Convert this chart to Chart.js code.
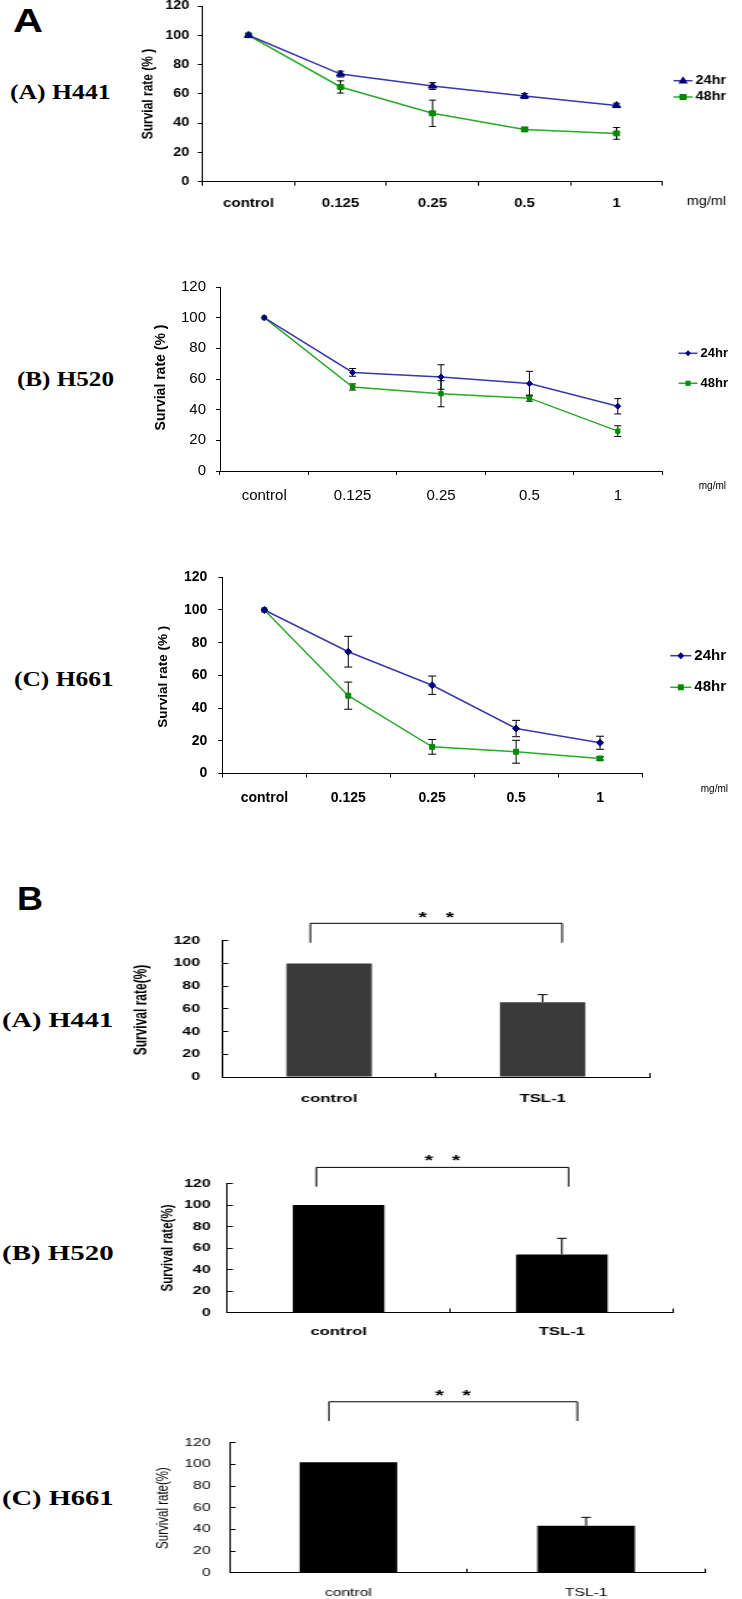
<!DOCTYPE html>
<html><head><meta charset="utf-8">
<script src="https://cdn.jsdelivr.net/npm/chart.js@4.4.1/dist/chart.umd.min.js"></script>
<style>
html,body{margin:0;padding:0;background:#fff;}
body{position:relative;width:742px;height:1599px;overflow:hidden;}
canvas{position:absolute;left:0;transform-origin:0 0;}
.tag{position:absolute;white-space:nowrap;transform-origin:0 50%;color:#000;}
.serif{font-family:'Liberation Serif','Times New Roman',serif;font-weight:bold;}
.big{font-family:'Liberation Sans',Arial,sans-serif;font-weight:bold;}
</style></head><body>
<script>
// ---------------- data ----------------
const doseLabels = ['control', '0.125', '0.25', '0.5', '1'];
const barLabels = ['control', 'TSL-1'];
const seriesNames = ['24hr', '48hr'];

const h441_24 = [100, 73.5, 65.3, 58.5, 52.1];
const h441_24err = [0, 2, 2.3, 1.7, 1.5];
const h441_48 = [100, 64.7, 46.7, 35.7, 33];
const h441_48err = [0, 4.2, 9, 1.4, 4];

const h520_24 = [100, 64.3, 61.3, 57, 42.2];
const h520_24err = [0, 2.5, 8, 8, 5];
const h520_48 = [100, 54.8, 50.4, 47.5, 26];
const h520_48err = [0, 2, 8.5, 2, 3.5];

const h661_24 = [100, 74.5, 54, 27.5, 18.8];
const h661_24err = [0, 9.4, 5.6, 5, 4];
const h661_48 = [100, 47.6, 16.3, 13.3, 9.2];
const h661_48err = [0, 8.3, 4.5, 7, 1];

const barH441 = [100, 65.8];
const barH441err = [0, 6.7];
const barH520 = [100, 54];
const barH520err = [0, 15];
const barH661 = [102, 43.4];
const barH661err = [0, 7.7];

const yMin = 0, yMax = 120, yStep = 20;
const lineTitle = 'Survial rate (% )';
const barTitle = 'Survival rate(%)';
const unitText = 'mg/ml';
const starText = '*';

// ---------------- styles / layout ----------------
const SANS = "'Liberation Sans', Arial, Helvetica, sans-serif";
const BLUE_LINE = '#3838aa', BLUE_PT = '#000080', GREEN_LINE = '#2aa82a', GREEN_PT = '#008a00';

const panels = [
  { kind:'line', s:1.2, left:202.5, right:662.5, yTop:6, yBottom:181.7, head:24, foot:34,
    labelY:202, yLabRight:189.3, yFont:{size:12, weight:'bold'}, xFont:{size:12.5, weight:'bold'},
    labels:doseLabels, yTick:4, xTick:4,
    series:[{name:seriesNames[0], data:h441_24, err:h441_24err, line:BLUE_LINE, pt:BLUE_PT, style:'triangle', r:4},
            {name:seriesNames[1], data:h441_48, err:h441_48err, line:GREEN_LINE, pt:GREEN_PT, style:'rect', r:3.5}],
    cap:3.5,
    legend:{ys:[80.7, 97], tr:726, len:19, gap:3, font:'bold 12px'},
    title:{text:lineTitle, x:149, y:94, font:'bold 12px'},
    unit:{text:unitText, xr:726, y:202, font:'12px'} },
  { kind:'line', s:1.0, left:220, right:662, yTop:287, yBottom:471, head:24, foot:34,
    labelY:494.5, yLabRight:206, yFont:{size:15, weight:'normal'}, xFont:{size:15, weight:'normal'},
    labels:doseLabels, yTick:4, xTick:4,
    series:[{name:seriesNames[0], data:h520_24, err:h520_24err, line:BLUE_LINE, pt:BLUE_PT, style:'rectRot', r:3},
            {name:seriesNames[1], data:h520_48, err:h520_48err, line:GREEN_LINE, pt:GREEN_PT, style:'rect', r:3}],
    cap:3.5,
    legend:{ys:[353.3, 383.3], tr:728, len:19, gap:3, font:'bold 13px'},
    title:{text:lineTitle, x:161, y:377.5, font:'bold 14px'},
    unit:{text:unitText, xr:726, y:486, font:'10px'} },
  { kind:'line', s:1.0, left:222.4, right:642, yTop:577.3, yBottom:773.5, head:24, foot:34,
    labelY:796.7, yLabRight:207.3, yFont:{size:14, weight:'bold'}, xFont:{size:14, weight:'bold'},
    labels:doseLabels, yTick:4, xTick:4,
    series:[{name:seriesNames[0], data:h661_24, err:h661_24err, line:BLUE_LINE, pt:BLUE_PT, style:'rectRot', r:3.5},
            {name:seriesNames[1], data:h661_48, err:h661_48err, line:GREEN_LINE, pt:GREEN_PT, style:'rect', r:3.5}],
    cap:4,
    legend:{ys:[655.7, 687.3], tr:726, len:21, gap:3, font:'bold 15px'},
    title:{text:lineTitle, x:163, y:676.7, font:'bold 13.5px'},
    unit:{text:unitText, xr:728, y:789, font:'10px'} },
  { kind:'bar', s:1.45, left:222.4, right:649.3, yTop:940.7, yBottom:1077, head:50, foot:32,
    labelY:1097.7, yLabRight:200, yFont:{size:11, weight:'bold'}, xFont:{size:11.5, weight:'bold'},
    labels:barLabels, barPct:0.4, yTick:-4, xTick:-4,
    series:[{data:barH441, err:barH441err, color:'#3a3a3a'}],
    cap:5,
    bracket:{l:-0.088, r:0.092, top:135.3, bot:118.2, star:143.5, gap:13.5, font:'bold 15px'},
    title:{text:barTitle, x:142, y:1010, font:'bold 12px'} },
  { kind:'bar', s:1.45, left:227, right:673.5, yTop:1183.5, yBottom:1312.5, head:50, foot:32,
    labelY:1330.7, yLabRight:210.6, yFont:{size:11, weight:'bold'}, xFont:{size:11.5, weight:'bold'},
    labels:barLabels, barPct:0.41, yTick:-4, xTick:-4,
    series:[{data:barH520, err:barH520err, color:'#000000'}],
    cap:5,
    bracket:{l:-0.1, r:0.03, top:135, bot:117, star:144.4, gap:13.5, font:'bold 15px'},
    title:{text:barTitle, x:168, y:1248, font:'bold 11.5px'} },
  { kind:'bar', s:1.5, left:229.5, right:705, yTop:1442.7, yBottom:1572.7, head:72, foot:27,
    labelY:1591.7, yLabRight:210.6, yFont:{size:10.5, weight:'normal'}, xFont:{size:10.5, weight:'normal'},
    labels:barLabels, barPct:0.41, yTick:-4, xTick:-4,
    series:[{data:barH661, err:barH661err, color:'#000000'}],
    cap:5,
    bracket:{l:-0.082, r:-0.037, top:157.8, bot:140, star:167, gap:13.5, font:'bold 15px'},
    title:{text:barTitle, x:163, y:1508, font:'11.5px'} }
];

const tags = [
  {text:'A', cls:'big', size:33, x0:13, x1:43, yc:20},
  {text:'(A) H441', cls:'serif', size:20, x0:10.4, x1:111, yc:91.7},
  {text:'(B) H520', cls:'serif', size:20, x0:16.6, x1:113.6, yc:379.3},
  {text:'(C) H661', cls:'serif', size:20, x0:14, x1:113.6, yc:679.3},
  {text:'B', cls:'big', size:34, x0:16.6, x1:42.6, yc:897.5},
  {text:'(A) H441', cls:'serif', size:20, x0:2.4, x1:113.6, yc:1020},
  {text:'(B) H520', cls:'serif', size:20, x0:2, x1:113.6, yc:1252.7},
  {text:'(C) H661', cls:'serif', size:20, x0:2, x1:113.6, yc:1498.3}
];

tags.forEach(t => {
  const el = document.createElement('div');
  el.className = 'tag ' + t.cls;
  el.textContent = t.text;
  el.style.fontSize = t.size + 'px';
  el.style.lineHeight = t.size + 'px';
  el.style.left = t.x0 + 'px';
  el.style.top = (t.yc - t.size * 0.5) + 'px';
  document.body.appendChild(el);
  const w = el.getBoundingClientRect().width;
  el.style.transform = 'scaleX(' + ((t.x1 - t.x0) / w) + ')';
});

function drawMarker(ctx, style, x, y, r) {
  ctx.beginPath();
  if (style === 'triangle') {
    ctx.moveTo(x, y - r * 1.1); ctx.lineTo(x + r, y + r * 0.7); ctx.lineTo(x - r, y + r * 0.7);
  } else if (style === 'rectRot') {
    ctx.moveTo(x, y - r); ctx.lineTo(x + r, y); ctx.lineTo(x, y + r); ctx.lineTo(x - r, y);
  } else {
    ctx.rect(x - r * 0.85, y - r * 0.85, r * 1.7, r * 1.7);
  }
  ctx.closePath(); ctx.fill();
}

function build(p, idx) {
  const W = Math.round(742 / p.s);
  const S = 742 / W;
  const cTop = Math.floor(p.yTop - p.head);
  const cH = Math.ceil(p.yBottom + p.foot - cTop);
  const cv = document.createElement('canvas');
  cv.width = W; cv.height = cH;
  cv.style.top = cTop + 'px';
  cv.style.width = W + 'px'; cv.style.height = cH + 'px';
  cv.style.transform = 'scaleX(' + S + ')';
  document.body.appendChild(cv);
  const X = v => v / S, Y = v => v - cTop;
  const yW = 40, xH = p.foot - 2;
  const padding = { left: X(p.left) - yW, right: W - X(p.right), top: p.yTop - cTop,
                    bottom: cH - (p.yBottom - cTop) - xH };
  const yPad = X(p.left) - X(p.yLabRight) - p.yTick;
  const xPad = p.labelY - p.yBottom - p.xTick - 0.5 * p.xFont.size;

  let datasets;
  if (p.kind === 'line') {
    datasets = p.series.map(se => ({
      label: se.name, data: se.data, borderColor: se.line, borderWidth: 1.5,
      backgroundColor: se.pt, pointBackgroundColor: se.pt, pointBorderColor: se.pt,
      pointStyle: se.style, pointRadius: se.r, pointBorderWidth: 1, tension: 0, fill: false
    }));
  } else {
    datasets = p.series.map(se => ({
      data: se.data, backgroundColor: se.color, borderWidth: 0,
      barPercentage: p.barPct, categoryPercentage: 1
    }));
  }

  function errorBars(chart) {
    const ctx = chart.ctx, ys = chart.scales.y;
    ctx.save();
    ctx.strokeStyle = '#000'; ctx.lineWidth = 1;
    chart.data.datasets.forEach((ds, di) => {
      const meta = chart.getDatasetMeta(di);
      const err = p.series[di].err;
      meta.data.forEach((el, i) => {
        const e = err[i]; if (!e) return;
        const v = ds.data[i];
        const x = el.x;
        const yHi = ys.getPixelForValue(v + e);
        const yLo = ys.getPixelForValue(p.kind === 'bar' ? v : v - e);
        const cw = p.cap / S;
        ctx.beginPath();
        ctx.moveTo(x, yHi); ctx.lineTo(x, yLo);
        ctx.moveTo(x - cw, yHi); ctx.lineTo(x + cw, yHi);
        if (p.kind !== 'bar') { ctx.moveTo(x - cw, yLo); ctx.lineTo(x + cw, yLo); }
        ctx.stroke();
      });
    });
    ctx.restore();
  }

  const decor = {
    id: 'decor' + idx,
    beforeDatasetsDraw(chart) { if (p.kind === 'line') errorBars(chart); },
    afterDatasetsDraw(chart) {
      if (p.kind === 'bar') errorBars(chart);
      const ctx = chart.ctx, xs = chart.scales.x, ys = chart.scales.y;
      ctx.save();
      ctx.fillStyle = '#000'; ctx.strokeStyle = '#000';
      // y title
      ctx.save();
      ctx.translate(X(p.title.x), Y(p.title.y));
      ctx.rotate(-Math.PI / 2);
      ctx.font = p.title.font + ' ' + SANS;
      ctx.textAlign = 'center'; ctx.textBaseline = 'middle';
      ctx.fillText(p.title.text, 0, 0);
      ctx.restore();
      if (p.unit) {
        ctx.font = p.unit.font + ' ' + SANS;
        ctx.textAlign = 'right'; ctx.textBaseline = 'middle';
        ctx.fillText(p.unit.text, X(p.unit.xr), Y(p.unit.y));
      }
      if (p.legend) {
        const lg = p.legend;
        ctx.font = lg.font + ' ' + SANS;
        const tw = Math.max(...chart.data.datasets.map(ds => ctx.measureText(ds.label).width));
        const tx = X(lg.tr) - tw;
        const x1 = tx - X(lg.gap), x0 = x1 - X(lg.len);
        chart.data.datasets.forEach((ds, di) => {
          const se = p.series[di];
          const yy = Y(lg.ys[di]);
          ctx.strokeStyle = se.line; ctx.lineWidth = 1.5;
          ctx.beginPath(); ctx.moveTo(x0, yy); ctx.lineTo(x1, yy); ctx.stroke();
          ctx.fillStyle = se.pt;
          drawMarker(ctx, se.style, (x0 + x1) / 2, yy, se.r);
          ctx.fillStyle = '#000';
          ctx.font = lg.font + ' ' + SANS;
          ctx.textAlign = 'left'; ctx.textBaseline = 'middle';
          ctx.fillText(ds.label, tx, yy);
        });
      }
      if (p.bracket) {
        const b = p.bracket;
        const c0 = xs.getPixelForValue(0), c1 = xs.getPixelForValue(1);
        const cw = c1 - c0;
        const xl = c0 + b.l * cw, xr = c1 + b.r * cw;
        const yt = ys.getPixelForValue(b.top), yb = ys.getPixelForValue(b.bot);
        ctx.strokeStyle = '#000'; ctx.lineWidth = 1;
        ctx.beginPath();
        ctx.moveTo(xl, yb); ctx.lineTo(xl, yt); ctx.lineTo(xr, yt); ctx.lineTo(xr, yb);
        ctx.stroke();
        const sy = ys.getPixelForValue(b.star);
        const fs = parseFloat(b.font.replace(/[^0-9.]/g, ''));
        ctx.font = b.font + ' ' + SANS;
        ctx.textAlign = 'center'; ctx.textBaseline = 'middle';
        const mid = (xl + xr) / 2;
        ctx.fillText(starText, mid - X(b.gap), sy + fs * 0.25);
        ctx.fillText(starText, mid + X(b.gap), sy + fs * 0.25);
      }
      ctx.restore();
    }
  };

  new Chart(cv, {
    type: p.kind,
    data: { labels: p.labels, datasets },
    options: {
      responsive: false, animation: false, devicePixelRatio: 1,
      layout: { padding },
      plugins: { legend: { display: false }, tooltip: { enabled: false } },
      scales: {
        x: {
          type: 'category', offset: true,
          grid: { offset: true, drawOnChartArea: false, drawTicks: true, tickLength: p.xTick, color: '#000', lineWidth: 1 },
          border: { display: true, color: '#000', width: 1 },
          ticks: { color: '#000', font: { family: SANS, size: p.xFont.size, weight: p.xFont.weight },
                   padding: xPad, maxRotation: 0, minRotation: 0, autoSkip: false },
          afterFit(sc) { sc.height = xH; }
        },
        y: {
          min: yMin, max: yMax,
          ticks: { stepSize: yStep, color: '#000', font: { family: SANS, size: p.yFont.size, weight: p.yFont.weight }, padding: yPad },
          grid: { drawOnChartArea: false, drawTicks: true, tickLength: p.yTick, color: '#000', lineWidth: 1 },
          border: { display: true, color: '#000', width: 1 },
          afterFit(sc) { sc.width = yW; }
        }
      }
    },
    plugins: [decor]
  });
}

panels.forEach(build);
</script>
</body></html>
